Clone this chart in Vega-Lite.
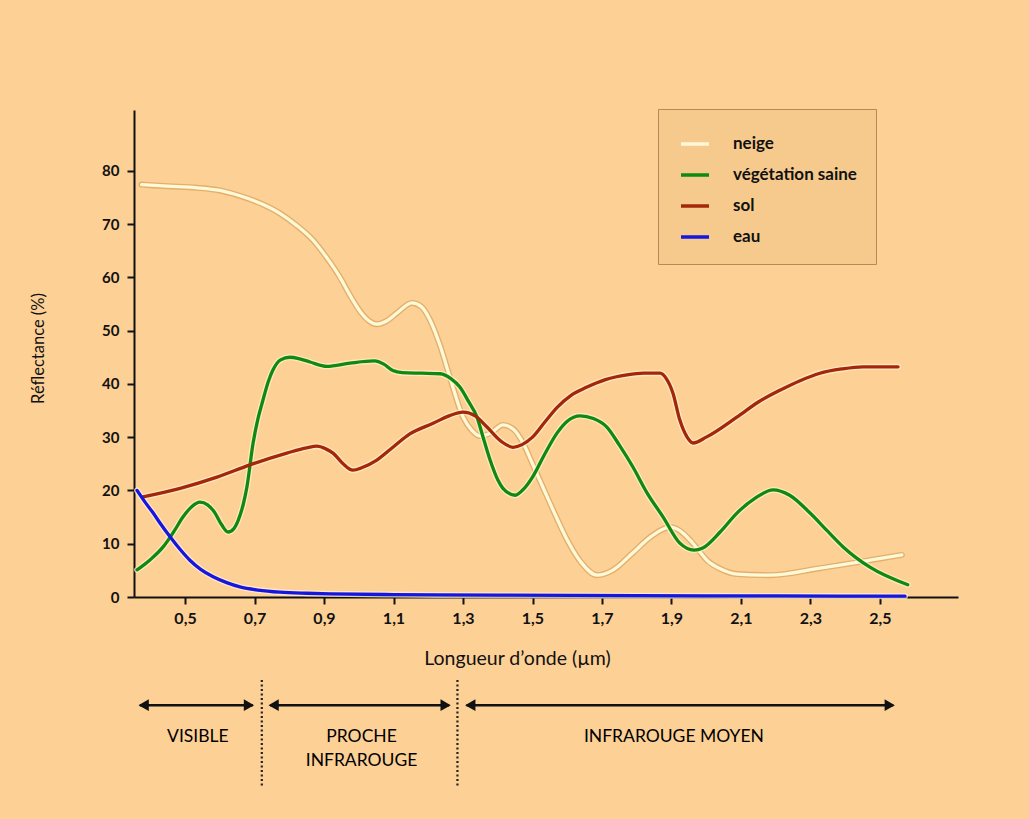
{
  "$schema": "https://vega.github.io/schema/vega-lite/v6.json",
  "width": 824,
  "height": 487,
  "autosize": {"type": "none"},
  "padding": {"left": 134, "top": 110, "right": 71, "bottom": 222},
  "background": "#FDD096",
  "config": {
    "view": {"stroke": null},
    "font": "Lato",
    "axis": {
      "domainColor": "#111111", "domainWidth": 2, "tickColor": "#111111", "tickWidth": 2, "tickSize": 7,
      "grid": false, "labelColor": "#111111", "labelFont": "Lato", "labelFontWeight": "bold",
      "titleFont": "Lato", "titleFontWeight": "normal", "titleColor": "#111111"
    }
  },
  "encoding": {
    "x": {
      "field": "lambda", "type": "quantitative",
      "scale": {"domain": [0.3532, 2.7245], "nice": false, "zero": false},
      "axis": {
        "values": [0.5, 0.7, 0.9, 1.1, 1.3, 1.5, 1.7, 1.9, 2.1, 2.3, 2.5],
        "labelExpr": "replace(format(datum.value, '.1f'), '.', ',')",
        "labelFontSize": 16, "labelPadding": 6,
        "title": "Longueur d’onde (µm)", "titleFontSize": 19.5,
        "titleX": 383, "titleY": 61, "titleBaseline": "middle", "titleAlign": "center"
      }
    },
    "y": {
      "field": "r", "type": "quantitative",
      "scale": {"domain": [0, 91.4], "nice": false},
      "axis": {
        "values": [0, 10, 20, 30, 40, 50, 60, 70, 80],
        "labelFontSize": 15, "labelPadding": 8,
        "title": "Réflectance (%)", "titleFontSize": 16.5,
        "titleX": -96, "titleY": 238, "titleBaseline": "middle", "titleAlign": "center", "titleAngle": -90
      }
    }
  },
  "layer": [
    {
      "data": {"name": "courbes"},
      "mark": {"type": "line", "interpolate": "monotone", "strokeWidth": 6, "opacity": 0.75, "strokeCap": "round"},
      "encoding": {
        "detail": {"field": "serie"},
        "color": {
          "field": "serie", "type": "nominal", "legend": null,
          "scale": {"domain": ["neige", "végétation saine", "sol", "eau"], "range": ["#D9A45C", "#FFEFCC", "#FFEFCC", "#FFEFCC"]}
        }
      }
    },
    {
      "data": {"name": "courbes"},
      "mark": {"type": "line", "interpolate": "monotone", "strokeWidth": 3.3, "strokeCap": "round"},
      "encoding": {
        "color": {
          "field": "serie", "type": "nominal",
          "scale": {"domain": ["neige", "végétation saine", "sol", "eau"], "range": ["#FFF9D8", "#0F8A0F", "#A3280A", "#1616E2"]},
          "legend": {
            "orient": "none", "legendX": 524, "legendY": -1, "direction": "vertical", "title": null,
            "fillColor": "#F6CA8C", "strokeColor": "#B48A55", "padding": 19, "cornerRadius": 0,
            "symbolType": "stroke", "symbolSize": 784, "symbolStrokeWidth": 3.5, "symbolOffset": 2,
            "labelOffset": 22, "rowPadding": 7, "labelFont": "Lato", "labelFontSize": 17,
            "labelFontWeight": "bold", "labelColor": "#111111"
          }
        }
      }
    },
    {
      "data": {"name": "separateurs"},
      "mark": {"type": "rule", "strokeDash": [2, 2.5], "strokeWidth": 2.2, "color": "#222222"},
      "encoding": {"y2": {"field": "r2"}}
    },
    {
      "data": {"name": "fleches"},
      "mark": {"type": "rule", "strokeWidth": 2.5, "color": "#111111"},
      "encoding": {"x2": {"field": "lambda2"}}
    },
    {
      "data": {"name": "pointes"},
      "mark": {"type": "point", "filled": true, "size": 140, "opacity": 1, "color": "#111111"},
      "encoding": {"shape": {"field": "sens", "type": "nominal", "scale": {"domain": ["g", "d"], "range": ["triangle-left", "triangle-right"]}, "legend": null}}
    },
    {
      "data": {"name": "zones"},
      "mark": {"type": "text", "font": "Lato", "fontSize": 17.5, "color": "#000000", "baseline": "middle", "align": "center"},
      "encoding": {"text": {"field": "texte"}}
    }
  ],
  "resolve": {"scale": {"color": "independent"}},
  "datasets": {
    "courbes": [
      {"serie": "neige", "lambda": 0.375, "r": 77.4},
      {"serie": "neige", "lambda": 0.45, "r": 77.1},
      {"serie": "neige", "lambda": 0.535, "r": 76.8},
      {"serie": "neige", "lambda": 0.6, "r": 76.3},
      {"serie": "neige", "lambda": 0.658, "r": 75.3},
      {"serie": "neige", "lambda": 0.72, "r": 73.8},
      {"serie": "neige", "lambda": 0.773, "r": 72.0},
      {"serie": "neige", "lambda": 0.82, "r": 69.8},
      {"serie": "neige", "lambda": 0.868, "r": 67.0},
      {"serie": "neige", "lambda": 0.91, "r": 63.5},
      {"serie": "neige", "lambda": 0.946, "r": 60.0},
      {"serie": "neige", "lambda": 0.975, "r": 56.6},
      {"serie": "neige", "lambda": 1.004, "r": 53.6},
      {"serie": "neige", "lambda": 1.03, "r": 51.8},
      {"serie": "neige", "lambda": 1.052, "r": 51.2},
      {"serie": "neige", "lambda": 1.08, "r": 51.8},
      {"serie": "neige", "lambda": 1.11, "r": 53.3},
      {"serie": "neige", "lambda": 1.153, "r": 55.2},
      {"serie": "neige", "lambda": 1.18, "r": 54.5},
      {"serie": "neige", "lambda": 1.205, "r": 52.0},
      {"serie": "neige", "lambda": 1.235, "r": 47.0},
      {"serie": "neige", "lambda": 1.262, "r": 41.3},
      {"serie": "neige", "lambda": 1.3, "r": 33.8},
      {"serie": "neige", "lambda": 1.325, "r": 31.3},
      {"serie": "neige", "lambda": 1.349, "r": 30.2},
      {"serie": "neige", "lambda": 1.38, "r": 30.8},
      {"serie": "neige", "lambda": 1.415, "r": 32.3},
      {"serie": "neige", "lambda": 1.445, "r": 31.5},
      {"serie": "neige", "lambda": 1.473, "r": 28.9},
      {"serie": "neige", "lambda": 1.5, "r": 25.0},
      {"serie": "neige", "lambda": 1.53, "r": 20.6},
      {"serie": "neige", "lambda": 1.565, "r": 15.5},
      {"serie": "neige", "lambda": 1.6, "r": 10.7},
      {"serie": "neige", "lambda": 1.64, "r": 6.5},
      {"serie": "neige", "lambda": 1.686, "r": 4.1},
      {"serie": "neige", "lambda": 1.73, "r": 5.0},
      {"serie": "neige", "lambda": 1.789, "r": 8.3},
      {"serie": "neige", "lambda": 1.84, "r": 11.3},
      {"serie": "neige", "lambda": 1.896, "r": 13.1},
      {"serie": "neige", "lambda": 1.925, "r": 12.4},
      {"serie": "neige", "lambda": 1.953, "r": 10.7},
      {"serie": "neige", "lambda": 1.98, "r": 8.6},
      {"serie": "neige", "lambda": 2.002, "r": 6.9},
      {"serie": "neige", "lambda": 2.04, "r": 5.3},
      {"serie": "neige", "lambda": 2.089, "r": 4.3},
      {"serie": "neige", "lambda": 2.183, "r": 4.1},
      {"serie": "neige", "lambda": 2.327, "r": 5.4},
      {"serie": "neige", "lambda": 2.471, "r": 6.9},
      {"serie": "neige", "lambda": 2.563, "r": 7.9},

      {"serie": "végétation saine", "lambda": 0.362, "r": 5.1},
      {"serie": "végétation saine", "lambda": 0.4, "r": 7.0},
      {"serie": "végétation saine", "lambda": 0.437, "r": 9.4},
      {"serie": "végétation saine", "lambda": 0.47, "r": 12.5},
      {"serie": "végétation saine", "lambda": 0.494, "r": 15.0},
      {"serie": "végétation saine", "lambda": 0.52, "r": 17.0},
      {"serie": "végétation saine", "lambda": 0.543, "r": 17.8},
      {"serie": "végétation saine", "lambda": 0.565, "r": 17.3},
      {"serie": "végétation saine", "lambda": 0.586, "r": 15.8},
      {"serie": "végétation saine", "lambda": 0.605, "r": 13.6},
      {"serie": "végétation saine", "lambda": 0.624, "r": 12.2},
      {"serie": "végétation saine", "lambda": 0.64, "r": 12.8},
      {"serie": "végétation saine", "lambda": 0.653, "r": 14.4},
      {"serie": "végétation saine", "lambda": 0.668, "r": 17.5},
      {"serie": "végétation saine", "lambda": 0.678, "r": 20.6},
      {"serie": "végétation saine", "lambda": 0.696, "r": 28.9},
      {"serie": "végétation saine", "lambda": 0.71, "r": 33.5},
      {"serie": "végétation saine", "lambda": 0.722, "r": 36.4},
      {"serie": "végétation saine", "lambda": 0.74, "r": 40.5},
      {"serie": "végétation saine", "lambda": 0.753, "r": 42.6},
      {"serie": "végétation saine", "lambda": 0.775, "r": 44.5},
      {"serie": "végétation saine", "lambda": 0.802, "r": 45.0},
      {"serie": "végétation saine", "lambda": 0.83, "r": 44.7},
      {"serie": "végétation saine", "lambda": 0.86, "r": 44.1},
      {"serie": "végétation saine", "lambda": 0.908, "r": 43.3},
      {"serie": "végétation saine", "lambda": 0.975, "r": 43.9},
      {"serie": "végétation saine", "lambda": 1.045, "r": 44.3},
      {"serie": "végétation saine", "lambda": 1.072, "r": 43.7},
      {"serie": "végétation saine", "lambda": 1.098, "r": 42.5},
      {"serie": "végétation saine", "lambda": 1.125, "r": 42.1},
      {"serie": "végétation saine", "lambda": 1.18, "r": 42.0},
      {"serie": "végétation saine", "lambda": 1.234, "r": 41.9},
      {"serie": "végétation saine", "lambda": 1.265, "r": 41.0},
      {"serie": "végétation saine", "lambda": 1.291, "r": 39.4},
      {"serie": "végétation saine", "lambda": 1.315, "r": 36.8},
      {"serie": "végétation saine", "lambda": 1.34, "r": 33.8},
      {"serie": "végétation saine", "lambda": 1.36, "r": 29.5},
      {"serie": "végétation saine", "lambda": 1.378, "r": 25.7},
      {"serie": "végétation saine", "lambda": 1.4, "r": 22.0},
      {"serie": "végétation saine", "lambda": 1.415, "r": 20.4},
      {"serie": "végétation saine", "lambda": 1.45, "r": 19.1},
      {"serie": "végétation saine", "lambda": 1.475, "r": 20.3},
      {"serie": "végétation saine", "lambda": 1.5, "r": 22.5},
      {"serie": "végétation saine", "lambda": 1.535, "r": 26.8},
      {"serie": "végétation saine", "lambda": 1.571, "r": 30.8},
      {"serie": "végétation saine", "lambda": 1.6, "r": 33.0},
      {"serie": "végétation saine", "lambda": 1.637, "r": 34.0},
      {"serie": "végétation saine", "lambda": 1.675, "r": 33.5},
      {"serie": "végétation saine", "lambda": 1.714, "r": 31.9},
      {"serie": "végétation saine", "lambda": 1.75, "r": 28.5},
      {"serie": "végétation saine", "lambda": 1.789, "r": 24.4},
      {"serie": "végétation saine", "lambda": 1.83, "r": 19.5},
      {"serie": "végétation saine", "lambda": 1.876, "r": 15.0},
      {"serie": "végétation saine", "lambda": 1.924, "r": 10.1},
      {"serie": "végétation saine", "lambda": 1.965, "r": 8.8},
      {"serie": "végétation saine", "lambda": 1.99, "r": 9.2},
      {"serie": "végétation saine", "lambda": 2.04, "r": 12.2},
      {"serie": "végétation saine", "lambda": 2.089, "r": 15.8},
      {"serie": "végétation saine", "lambda": 2.14, "r": 18.5},
      {"serie": "végétation saine", "lambda": 2.192, "r": 20.1},
      {"serie": "végétation saine", "lambda": 2.24, "r": 19.1},
      {"serie": "végétation saine", "lambda": 2.298, "r": 15.8},
      {"serie": "végétation saine", "lambda": 2.35, "r": 12.3},
      {"serie": "végétation saine", "lambda": 2.394, "r": 9.4},
      {"serie": "végétation saine", "lambda": 2.471, "r": 5.6},
      {"serie": "végétation saine", "lambda": 2.58, "r": 2.3},

      {"serie": "sol", "lambda": 0.379, "r": 18.8},
      {"serie": "sol", "lambda": 0.486, "r": 20.4},
      {"serie": "sol", "lambda": 0.592, "r": 22.5},
      {"serie": "sol", "lambda": 0.687, "r": 24.8},
      {"serie": "sol", "lambda": 0.793, "r": 27.0},
      {"serie": "sol", "lambda": 0.85, "r": 28.0},
      {"serie": "sol", "lambda": 0.88, "r": 28.3},
      {"serie": "sol", "lambda": 0.905, "r": 27.8},
      {"serie": "sol", "lambda": 0.926, "r": 27.0},
      {"serie": "sol", "lambda": 0.955, "r": 25.0},
      {"serie": "sol", "lambda": 0.983, "r": 23.8},
      {"serie": "sol", "lambda": 1.01, "r": 24.3},
      {"serie": "sol", "lambda": 1.052, "r": 25.7},
      {"serie": "sol", "lambda": 1.1, "r": 28.2},
      {"serie": "sol", "lambda": 1.147, "r": 30.6},
      {"serie": "sol", "lambda": 1.214, "r": 32.6},
      {"serie": "sol", "lambda": 1.26, "r": 34.0},
      {"serie": "sol", "lambda": 1.3, "r": 34.7},
      {"serie": "sol", "lambda": 1.335, "r": 34.0},
      {"serie": "sol", "lambda": 1.369, "r": 31.9},
      {"serie": "sol", "lambda": 1.41, "r": 29.2},
      {"serie": "sol", "lambda": 1.444, "r": 28.1},
      {"serie": "sol", "lambda": 1.47, "r": 28.6},
      {"serie": "sol", "lambda": 1.5, "r": 30.0},
      {"serie": "sol", "lambda": 1.535, "r": 32.8},
      {"serie": "sol", "lambda": 1.571, "r": 35.6},
      {"serie": "sol", "lambda": 1.61, "r": 37.8},
      {"serie": "sol", "lambda": 1.657, "r": 39.4},
      {"serie": "sol", "lambda": 1.71, "r": 40.8},
      {"serie": "sol", "lambda": 1.772, "r": 41.7},
      {"serie": "sol", "lambda": 1.82, "r": 42.0},
      {"serie": "sol", "lambda": 1.867, "r": 42.0},
      {"serie": "sol", "lambda": 1.885, "r": 41.0},
      {"serie": "sol", "lambda": 1.904, "r": 38.3},
      {"serie": "sol", "lambda": 1.924, "r": 33.2},
      {"serie": "sol", "lambda": 1.945, "r": 30.0},
      {"serie": "sol", "lambda": 1.962, "r": 28.9},
      {"serie": "sol", "lambda": 2.0, "r": 30.0},
      {"serie": "sol", "lambda": 2.089, "r": 33.8},
      {"serie": "sol", "lambda": 2.15, "r": 36.6},
      {"serie": "sol", "lambda": 2.212, "r": 38.8},
      {"serie": "sol", "lambda": 2.27, "r": 40.6},
      {"serie": "sol", "lambda": 2.327, "r": 42.0},
      {"serie": "sol", "lambda": 2.39, "r": 42.8},
      {"serie": "sol", "lambda": 2.451, "r": 43.2},
      {"serie": "sol", "lambda": 2.552, "r": 43.2},

      {"serie": "eau", "lambda": 0.362, "r": 20.0},
      {"serie": "eau", "lambda": 0.385, "r": 17.8},
      {"serie": "eau", "lambda": 0.408, "r": 15.8},
      {"serie": "eau", "lambda": 0.43, "r": 13.7},
      {"serie": "eau", "lambda": 0.457, "r": 11.3},
      {"serie": "eau", "lambda": 0.485, "r": 9.0},
      {"serie": "eau", "lambda": 0.514, "r": 6.9},
      {"serie": "eau", "lambda": 0.545, "r": 5.2},
      {"serie": "eau", "lambda": 0.581, "r": 3.8},
      {"serie": "eau", "lambda": 0.62, "r": 2.7},
      {"serie": "eau", "lambda": 0.658, "r": 1.9},
      {"serie": "eau", "lambda": 0.71, "r": 1.3},
      {"serie": "eau", "lambda": 0.773, "r": 0.9},
      {"serie": "eau", "lambda": 0.85, "r": 0.7},
      {"serie": "eau", "lambda": 0.917, "r": 0.6},
      {"serie": "eau", "lambda": 1.1, "r": 0.45},
      {"serie": "eau", "lambda": 1.4, "r": 0.35},
      {"serie": "eau", "lambda": 1.8, "r": 0.25},
      {"serie": "eau", "lambda": 2.2, "r": 0.2},
      {"serie": "eau", "lambda": 2.572, "r": 0.15}
    ],
    "separateurs": [
      {"lambda": 0.721, "r": -15.6, "r2": -35.6},
      {"lambda": 1.284, "r": -15.6, "r2": -35.6}
    ],
    "fleches": [
      {"lambda": 0.37, "lambda2": 0.695, "r": -20.3},
      {"lambda": 0.745, "lambda2": 1.26, "r": -20.3},
      {"lambda": 1.31, "lambda2": 2.538, "r": -20.3}
    ],
    "pointes": [
      {"lambda": 0.381, "r": -20.3, "sens": "g"},
      {"lambda": 0.684, "r": -20.3, "sens": "d"},
      {"lambda": 0.755, "r": -20.3, "sens": "g"},
      {"lambda": 1.25, "r": -20.3, "sens": "d"},
      {"lambda": 1.321, "r": -20.3, "sens": "g"},
      {"lambda": 2.528, "r": -20.3, "sens": "d"}
    ],
    "zones": [
      {"lambda": 0.537, "r": -26.3, "texte": "VISIBLE"},
      {"lambda": 1.008, "r": -26.3, "texte": "PROCHE"},
      {"lambda": 1.008, "r": -30.8, "texte": "INFRAROUGE"},
      {"lambda": 1.907, "r": -26.3, "texte": "INFRAROUGE MOYEN"}
    ]
  }
}
